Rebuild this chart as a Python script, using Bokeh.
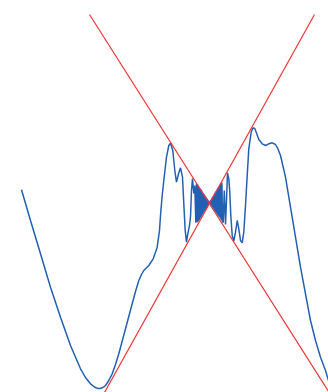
from bokeh.plotting import figure
from bokeh.models import Range1d
from bokeh.embed import file_html
from bokeh.resources import INLINE

# curve values
curve_x = [-188, -179, -169, -159, -149, -139, -129, -124, -119, -115, -113, -111.3, -109.5, -108, -106, -104,
           -101, -97.3, -94, -90.7, -84, -77.3, -74, -70.7, -68, -65.7, -60.7, -56.3, -52.3, -50, -49,
           -47.5, -45.7, -43, -40.7, -39, -36.7, -34.7, -33, -31, -29, -27, -25.7,
           -24.3, -23, -21.7, -20, -19, -18, -17, -15.7, -14.7,
           -13.7, -13.0, -12.4, -11.8, -11.2, -10.7, -10.2, -9.7, -9.2, -8.7, -8.3,
           -7.9, -7.5, -7.1, -6.7, -6.3, -6.0, -5.7, -5.4, -5.1, -4.8, -4.5, -4.2,
           -3.95, -3.7, -3.45, -3.2, -2.95, -2.7, -2.5, -2.3, -2.1, -1.9, -1.7, -1.5,
           -1.35, -1.2, -1.05, -0.9, -0.75, -0.6, -0.45, -0.3, -0.15, 0,
           0.15, 0.3, 0.45, 0.6, 0.75, 0.9, 1.05, 1.2, 1.35, 1.5, 1.7, 1.9, 2.1, 2.3,
           2.5, 2.7, 2.95, 3.2, 3.45, 3.7, 3.95, 4.2, 4.5, 4.8, 5.1, 5.4, 5.7, 6.0,
           6.3, 6.7, 7.1, 7.5, 7.9, 8.3, 8.7, 9.2, 9.7, 10.2, 10.7, 11.2, 11.8, 12.4,
           13.0, 13.7, 14.8, 16, 17, 18,
           19.3, 20.3, 21.3, 22.7, 24.3, 26, 27.7, 29.3, 31, 32.7, 34.3, 36, 37.7,
           39.3, 41.7, 43, 44.3, 45.5, 46.7, 49.3, 52.7, 56, 59.3, 62.7, 66, 68.5, 71, 76, 81, 86,
           91, 96, 101, 106, 111, 116, 119, 123]
curve_y = [12.7, -18, -51.3, -84.7, -114.7, -143, -166.3, -175, -181.3, -184.5, -185.6, -186, -186, -185.5, -184.6, -183,
           -178.5, -171.3, -162, -151.3, -126.3, -101.3, -89, -78, -72, -68, -63, -56.3, -44.7, -28, -13,
           5, 22, 45.3, 57, 59.3, 52, 32, 20.3, 28.7, 34.7, 25.3, -1.3,
           -28, -39.7, -31.3, -23, -14.7, 12, 24, 9, 17,
           -20, 19, -20, 18, -19, 16, -17.5, 14.5, -15.7, 13.3, -14.2,
           12.2, -12.8, 10.8, -11.5, 9.6, -10.3, 8.6, -9.3, 7.7, -8.3, 6.8, -7.3,
           6, -6.4, 5.2, -5.5, 4.4, -4.7, 3.8, -4, 3.1, -3.3, 2.6, -2.6,
           2.0, -2.1, 1.6, -1.6, 1.1, -1.0, 0.7, -0.5, 0.2, 0,
           -0.2, 0.5, -0.7, 1.0, -1.1, 1.6, -1.6, 2.1, -2.0, 2.6, -2.6, 3.3, -3.1, 4.0,
           -3.8, 4.7, -4.4, 5.5, -5.2, 6.4, -6, 7.3, -6.8, 8.3, -7.7, 9.3, -8.6, 10.3,
           -9.6, 11.5, -10.8, 12.8, -12.2, 14.2, -13.3, 15.7, -14.5, 17.5, -16, 19, -18, 20,
           -19, -20, 12, -22, 2, 29.7,
           23.7, 10.3, -13, -33, -38.5, -29.7, -18, -26.3, -38, -40.3, -29.7, -3, 27,
           53.7, 70.3, 73.8, 74.7, 73.5, 70.3, 63, 58.7, 57, 58.7, 59.7, 58, 53.5, 47, 25.3, -4.7, -34.7,
           -64.7, -91.3, -118, -138, -154.7, -168, -178, -188]

# envelope lines
line_a_x = [-120, 119]
line_a_y = [188, -189]
line_b_x = [-105, 105]
line_b_y = [-190, 188]

p = figure(width=328, height=392, output_backend="svg", toolbar_location=None,
           x_axis_type=None, y_axis_type=None, min_border=0,
           x_range=Range1d(-209, 119), y_range=Range1d(-190, 202))
p.grid.visible = False
p.outline_line_color = None
p.background_fill_color = "white"
p.border_fill_color = "white"

p.line(curve_x, curve_y, line_color="#2260b4", line_width=1.5)
p.line(line_a_x, line_a_y, line_color="#f03434", line_width=1.2)
p.line(line_b_x, line_b_y, line_color="#f03434", line_width=1.2)

open("out.html", "w").write(file_html(p, INLINE))
